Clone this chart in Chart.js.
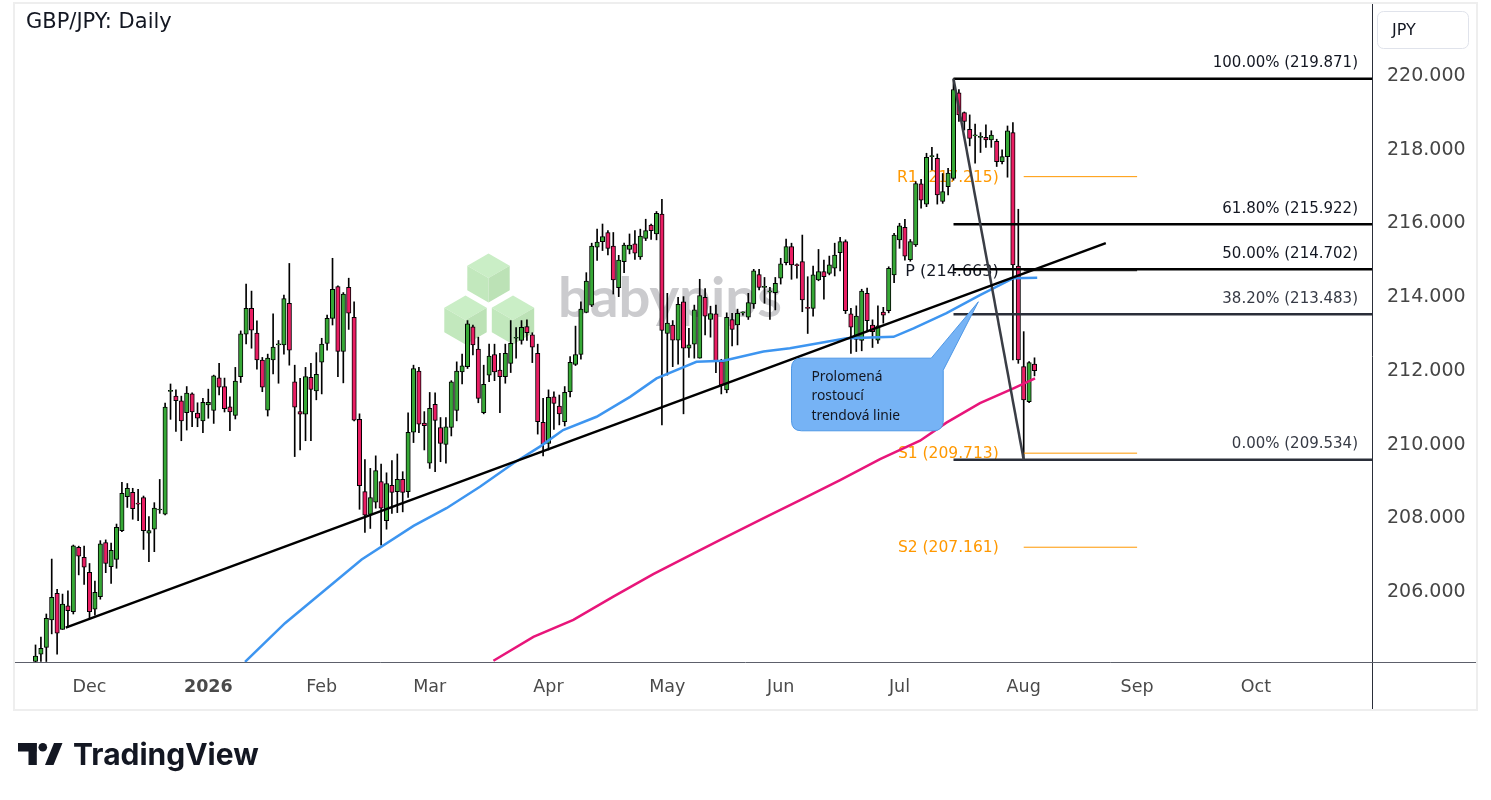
<!DOCTYPE html>
<html>
<head>
<meta charset="utf-8">
<title>GBP/JPY: Daily</title>
<script src="https://cdn.jsdelivr.net/npm/chart.js@4.4.1/dist/chart.umd.min.js"></script>
<style>
  html, body { margin: 0; padding: 0; background: #fff; }
  #wrap { width: 1491px; height: 800px; }
</style>
</head>
<body>
<div id="wrap"><canvas id="chart" width="1491" height="800"></canvas></div>
<script>
// daily candles (bar index 0 = 17 Nov 2025, trading days only)
const opens = [
  204.06, 204.26, 204.44, 205.19, 205.91, 204.93, 205.57, 205.41, 207.16, 206.89,
  206.48, 205.48, 205.82, 207.29, 206.63, 206.83, 207.61, 208.53, 208.65, 208.34,
  208.51, 207.54, 207.65, 208.17, 208.06, 211.39, 211.26, 211.13, 210.81, 211.32,
  210.80, 210.59, 211.02, 210.87, 211.76, 211.52, 210.97, 210.74, 211.79, 212.94,
  213.64, 212.97, 212.24, 210.88, 212.24, 212.65, 212.65, 213.78, 211.65, 210.84,
  210.77, 211.77, 211.40, 212.18, 212.69, 213.37, 214.23, 212.47, 214.21, 213.40,
  210.63, 208.67, 208.05, 208.38, 208.94, 207.88, 208.84, 208.67, 209.00, 208.67,
  210.28, 211.94, 210.53, 209.44, 211.04, 210.41, 209.95, 210.41, 210.87, 211.92,
  212.06, 213.14, 212.54, 210.81, 211.83, 212.39, 211.97, 211.79, 212.15, 212.83,
  212.77, 213.15, 212.92, 212.42, 210.55, 209.98, 211.24, 210.99, 210.57, 211.38,
  212.12, 212.39, 213.53, 213.73, 215.30, 215.45, 215.70, 215.33, 214.20, 214.91,
  215.24, 215.39, 215.04, 215.54, 215.90, 215.66, 216.20, 212.96, 213.19, 212.78,
  213.82, 212.56, 212.67, 212.29, 213.94, 213.34, 213.49, 212.20, 211.43, 213.34,
  213.19, 213.52, 213.40, 213.76, 214.56, 214.21, 214.09, 214.07, 214.46, 214.88,
  215.32, 214.83, 214.91, 213.65, 213.64, 214.41, 214.64, 214.59, 214.73, 215.15,
  215.45, 213.49, 212.80, 212.77, 214.05, 213.19, 212.78, 213.54, 213.58, 214.55,
  215.50, 215.84, 214.96, 215.36, 217.02, 216.47, 217.76, 217.71, 216.54, 216.94,
  217.17, 219.49, 218.95, 218.50, 218.32, 218.28, 218.28, 218.21, 218.17, 217.62,
  217.76, 218.41, 214.79, 212.06, 211.11, 212.13
];
const highs = [
  204.51, 204.72, 205.35, 206.84, 206.02, 205.89, 205.98, 207.22, 207.19, 207.19,
  206.72, 206.24, 207.34, 207.36, 207.27, 207.79, 208.92, 208.89, 208.76, 208.73,
  208.55, 207.99, 208.37, 209.00, 211.07, 211.59, 211.43, 211.26, 211.52, 211.35,
  211.08, 211.20, 211.45, 211.83, 212.15, 211.75, 211.24, 212.04, 213.03, 214.30,
  214.11, 213.30, 212.31, 212.40, 213.49, 212.77, 214.00, 214.86, 212.10, 211.74,
  212.04, 212.15, 212.44, 212.83, 213.46, 215.00, 214.25, 214.07, 214.46, 213.82,
  210.78, 209.54, 209.30, 209.64, 209.42, 209.18, 209.51, 209.69, 209.21, 210.81,
  212.10, 212.04, 210.84, 211.36, 211.35, 210.68, 210.68, 211.68, 212.19, 212.40,
  213.31, 213.19, 212.86, 212.10, 212.67, 212.67, 212.42, 212.67, 213.31, 213.12,
  213.31, 213.33, 212.98, 212.67, 211.20, 211.43, 211.38, 211.29, 211.52, 212.33,
  213.16, 213.82, 214.61, 215.41, 215.79, 215.93, 215.75, 215.70, 215.08, 215.41,
  215.66, 215.75, 215.79, 216.06, 215.93, 216.27, 216.60, 214.05, 213.31, 213.94,
  213.96, 213.10, 213.73, 214.43, 214.18, 213.70, 213.73, 212.26, 213.52, 213.51,
  213.62, 213.55, 214.05, 214.70, 214.70, 214.48, 214.21, 214.48, 215.00, 215.52,
  215.41, 214.85, 215.63, 214.50, 214.79, 215.24, 214.95, 215.06, 215.41, 215.57,
  215.50, 213.64, 213.71, 214.16, 214.19, 213.33, 213.71, 213.67, 214.77, 215.68,
  215.95, 216.06, 215.51, 217.08, 217.14, 217.85, 218.01, 217.83, 217.30, 217.44,
  219.871, 219.58, 218.97, 218.89, 218.64, 218.41, 218.62, 218.46, 218.23, 217.94,
  218.59, 218.68, 216.33, 213.01, 212.20, 212.30
];
const lows = [
  203.95, 204.06, 204.06, 204.81, 204.26, 204.93, 204.99, 205.35, 206.41, 206.15,
  205.23, 205.32, 205.75, 206.47, 206.18, 206.59, 207.58, 208.24, 207.92, 207.88,
  207.10, 206.77, 207.04, 208.08, 208.04, 210.63, 210.30, 210.05, 210.34, 210.43,
  210.43, 210.27, 210.66, 210.52, 211.29, 210.83, 210.32, 210.64, 211.63, 212.68,
  212.56, 211.99, 211.38, 210.72, 211.86, 211.61, 212.40, 212.10, 209.62, 209.80,
  210.05, 210.05, 211.16, 211.32, 212.51, 213.19, 211.79, 211.62, 213.07, 210.59,
  208.19, 207.56, 207.67, 208.22, 207.22, 207.65, 208.08, 208.10, 208.12, 208.51,
  210.00, 210.27, 209.80, 209.30, 209.21, 209.48, 209.44, 210.18, 210.59, 211.59,
  212.01, 212.38, 211.08, 210.78, 211.65, 211.68, 210.81, 211.61, 211.90, 212.29,
  212.67, 212.77, 212.17, 210.23, 209.64, 209.80, 210.36, 210.48, 210.45, 211.24,
  212.09, 212.26, 213.52, 213.69, 214.94, 215.21, 215.09, 214.03, 213.96, 214.61,
  215.12, 214.97, 214.97, 215.48, 215.51, 215.50, 210.48, 211.83, 212.06, 212.13,
  210.78, 212.31, 212.29, 212.29, 212.92, 212.86, 211.90, 211.32, 211.35, 212.62,
  212.65, 213.46, 213.34, 213.64, 214.14, 213.78, 213.34, 213.60, 214.30, 214.82,
  214.43, 214.46, 213.55, 212.96, 213.43, 214.39, 213.89, 214.55, 214.52, 214.66,
  213.50, 212.42, 212.47, 212.49, 213.01, 212.58, 212.69, 213.24, 213.52, 214.34,
  215.27, 214.95, 214.92, 215.32, 216.36, 216.40, 217.40, 216.47, 216.49, 216.72,
  217.12, 218.71, 218.48, 218.05, 217.58, 217.87, 218.01, 218.01, 217.49, 217.56,
  217.20, 212.24, 212.15, 209.534, 211.08, 211.81
];
const closes = [
  204.21, 204.42, 205.23, 205.80, 204.83, 205.62, 205.44, 207.20, 206.92, 206.62,
  205.41, 205.94, 207.25, 206.72, 207.08, 207.70, 208.62, 208.76, 208.21, 208.33,
  207.61, 207.61, 208.22, 208.18, 210.96, 211.40, 211.14, 210.59, 211.34, 210.83,
  210.66, 211.09, 211.09, 211.81, 211.50, 210.92, 210.83, 211.67, 212.95, 213.64,
  213.05, 212.24, 211.50, 212.29, 212.59, 212.66, 213.91, 212.51, 210.96, 210.77,
  211.79, 211.44, 211.85, 212.67, 213.37, 214.16, 212.47, 214.03, 213.51, 210.61,
  208.83, 208.03, 208.51, 209.24, 208.22, 208.89, 208.65, 209.00, 208.65, 210.28,
  212.01, 210.50, 210.46, 210.93, 210.60, 209.98, 210.43, 211.65, 211.94, 212.08,
  213.22, 212.65, 211.20, 211.58, 212.35, 211.92, 211.79, 212.42, 212.69, 212.84,
  213.13, 212.98, 212.59, 210.57, 209.96, 211.23, 211.06, 210.78, 211.36, 212.18,
  212.39, 213.62, 214.38, 215.33, 215.44, 215.59, 215.27, 214.41, 214.95, 215.36,
  215.36, 215.14, 215.60, 215.75, 215.75, 216.22, 213.04, 213.24, 212.78, 213.75,
  212.56, 212.65, 213.60, 213.99, 213.43, 213.50, 212.22, 211.56, 213.40, 213.07,
  213.51, 213.53, 213.80, 214.66, 214.21, 214.22, 214.10, 214.32, 214.85, 215.32,
  214.82, 214.80, 213.87, 213.64, 214.55, 214.64, 214.50, 214.82, 215.09, 215.45,
  213.58, 213.13, 213.43, 214.11, 213.31, 213.01, 213.17, 213.46, 214.73, 215.63,
  215.88, 215.06, 215.45, 217.03, 216.58, 217.74, 217.77, 216.72, 216.81, 217.31,
  219.58, 218.89, 218.71, 218.25, 218.33, 218.29, 218.21, 218.34, 217.62, 217.76,
  218.46, 214.82, 212.24, 211.16, 212.17, 211.95
];

// moving averages (bar index, price)
const blueMaIdx = [38.8, 46.2, 60.4, 70.0, 76.1, 82.3, 88.5, 93.4, 97.7, 103.9, 110.1, 115.0,
  122.4, 127.4, 134.8, 139.7, 150.2, 158.9, 162.6, 168.7, 174.9, 181.1, 185.5];
const blueMaVal = [204.05, 205.10, 206.83, 207.74, 208.22, 208.80, 209.44, 209.89, 210.34, 210.70, 211.24, 211.74,
  212.19, 212.22, 212.47, 212.56, 212.83, 212.87, 213.10, 213.51, 214.00, 214.46, 214.47];
const pinkMaIdx = [84.8, 92.2, 99.6, 107.0, 114.4, 121.8, 126.8, 135.4, 141.6, 149.0, 156.4, 163.8,
  168.7, 174.9, 181.1, 185.1];
const pinkMaVal = [204.08, 204.73, 205.19, 205.82, 206.43, 206.99, 207.36, 207.99, 208.44, 208.98, 209.55, 210.05,
  210.54, 211.07, 211.47, 211.74];

// drawings
const trendIdx = [5.6, 198.2];
const trendVal = [204.98, 215.41];
const fibLevels = ['100.00%', '61.80%', '50.00%', '38.20%', '0.00%'];
const fibValues = [219.871, 215.922, 214.702, 213.483, 209.534];
const fibSpan = [170, 183];          // swing high bar -> swing low bar
const pivotNames = ['R1', 'P', 'S1', 'S2'];
const pivotValues = [217.215, 214.663, 209.713, 207.161];
const pivotSpan = [183, 204];
const calloutLines = ['Prolomená', 'rostoucí', 'trendová linie'];

// axis
const monthIdx = [10, 32, 53, 73, 95, 117, 138, 160, 183, 204, 226];
const monthLabels = ['Dec', '2026', 'Feb', 'Mar', 'Apr', 'May', 'Jun', 'Jul', 'Aug', 'Sep', 'Oct'];
const priceTicks = [206, 208, 210, 212, 214, 216, 218, 220];

const X_MIN = -3.8, X_MAX = 247.5;
const Y_MIN = 204.047, Y_MAX = 221.899;
const GREEN = '#36a836';
const PINK = '#e91e63';
const ORANGE = '#ff9800';
const FONT = '"DejaVu Sans", Verdana, sans-serif';

const bars = opens.map((_, i) => i);
const bodyData = bars.map(i => ({ x: i, y: [opens[i], closes[i]] }));
const wickData = bars.map(i => ({ x: i, y: [lows[i], highs[i]] }));
const bodyColors = bars.map(i => closes[i] >= opens[i] ? GREEN : PINK);

const line = (data, color, width, order) => ({
    type: 'line', data, borderColor: color, borderWidth: width,
    pointRadius: 0, fill: false, tension: 0, order
});
const pairs = (xs, ys) => xs.map((x, i) => ({ x, y: ys[i] }));

const datasets = [
    line(pairs(trendIdx, trendVal), '#000', 2.5, 1),
    line(pairs(fibSpan, [fibValues[0], fibValues[4]]), '#3a3d45', 2.5, 2),
    line(pairs(blueMaIdx, blueMaVal), '#3d95f0', 2.5, 4),
    line(pairs(pinkMaIdx, pinkMaVal), '#e8157a', 2.5, 5),
];
fibValues.forEach((v, i) => {
    datasets.push(line(pairs([fibSpan[0], X_MAX], [v, v]), i < 3 ? '#000' : '#2a2e39', 2.5, 3));
});
pivotValues.forEach((v, i) => {
    datasets.push(line(pairs(pivotSpan, [v, v]), pivotNames[i] === 'P' ? '#000' : ORANGE, 1, 3));
});
datasets.push({
    type: 'bar', data: bodyData, backgroundColor: bodyColors, borderColor: '#000',
    borderWidth: 1, borderSkipped: false, barThickness: 4.4, minBarLength: 1,
    grouped: false, order: 20
});
datasets.push({
    type: 'bar', data: wickData, backgroundColor: '#000',
    barThickness: 1, grouped: false, order: 21
});

function cube(c, cx, cy, r) {
    const w = r * Math.cos(Math.PI / 6), h = r / 2;
    c.fillStyle = '#caeec6';
    c.beginPath(); c.moveTo(cx, cy - r); c.lineTo(cx + w, cy - h); c.lineTo(cx, cy); c.lineTo(cx - w, cy - h); c.closePath(); c.fill();
    c.fillStyle = '#c2e8bd';
    c.beginPath(); c.moveTo(cx - w, cy - h); c.lineTo(cx, cy); c.lineTo(cx, cy + r); c.lineTo(cx - w, cy + h); c.closePath(); c.fill();
    c.fillStyle = '#bce2b6';
    c.beginPath(); c.moveTo(cx, cy); c.lineTo(cx + w, cy - h); c.lineTo(cx + w, cy + h); c.lineTo(cx, cy + r); c.closePath(); c.fill();
}

const decor = {
    id: 'decor',
    beforeDraw(chart) {
        const c = chart.ctx;
        c.save();
        c.fillStyle = '#fff';
        c.fillRect(0, 0, chart.width, chart.height);
        c.restore();
    },
    beforeDatasetsDraw(chart) {
        const c = chart.ctx, xs = chart.scales.x, ys = chart.scales.y, a = chart.chartArea;
        c.save();
        // babypips watermark
        cube(c, 488.5, 278, 24.5);
        cube(c, 465.5, 320, 24.5);
        cube(c, 513, 320, 24.5);
        c.font = 'bold 59px Lato, "Open Sans", sans-serif';
        const w = c.measureText('babypips').width;
        c.font = `bold ${(59 * 224 / w).toFixed(1)}px Lato, "Open Sans", sans-serif`;
        c.fillStyle = '#cbcbce';
        c.textAlign = 'left';
        c.textBaseline = 'alphabetic';
        c.fillText('babypips', 558, 317);

        // fibonacci labels
        c.font = '15px ' + FONT;
        c.textAlign = 'right';
        c.textBaseline = 'bottom';
        fibValues.forEach((v, i) => {
            c.fillStyle = i < 3 ? '#131722' : '#363a45';
            c.fillText(`${fibLevels[i]} (${v.toFixed(3)})`, a.right - 14, ys.getPixelForValue(v) - 8);
        });

        // pivot labels (candles are drawn over them)
        c.textBaseline = 'middle';
        pivotNames.forEach((n, i) => {
            c.fillStyle = n === 'P' ? '#131722' : ORANGE;
            c.font = (n === 'P' ? '16px ' : '15.5px ') + FONT;
            c.fillText(`${n} (${pivotValues[i].toFixed(3)})`,
                xs.getPixelForValue(pivotSpan[0]) - 25, ys.getPixelForValue(pivotValues[i]) + 1);
        });
        c.restore();
    },
    afterDatasetsDraw(chart) {
        const c = chart.ctx, xs = chart.scales.x, ys = chart.scales.y;
        // callout "broken rising trend line"
        const x0 = xs.getPixelForValue(140.0), x1 = xs.getPixelForValue(168.1);
        const y0 = ys.getPixelForValue(212.29), y1 = ys.getPixelForValue(210.32);
        const tx = xs.getPixelForValue(174.6), ty = ys.getPixelForValue(213.82);
        const r = 10;
        c.save();
        c.beginPath();
        c.moveTo(x0 + r, y0);
        c.lineTo(x1 - 12, y0);
        c.lineTo(tx, ty);
        c.lineTo(x1, y0 + 12);
        c.lineTo(x1, y1 - r);
        c.quadraticCurveTo(x1, y1, x1 - r, y1);
        c.lineTo(x0 + r, y1);
        c.quadraticCurveTo(x0, y1, x0, y1 - r);
        c.lineTo(x0, y0 + r);
        c.quadraticCurveTo(x0, y0, x0 + r, y0);
        c.closePath();
        c.fillStyle = '#76b3f5';
        c.fill();
        c.lineWidth = 1;
        c.strokeStyle = '#4f98e6';
        c.stroke();
        c.fillStyle = '#131722';
        c.font = '13.8px "Noto Sans", sans-serif';
        c.textAlign = 'left';
        c.textBaseline = 'middle';
        calloutLines.forEach((t, i) => c.fillText(t, x0 + 20, y0 + 18.5 + i * 19.7));
        c.restore();
    },
    afterDraw(chart) {
        const c = chart.ctx, a = chart.chartArea;
        c.save();
        // outer frame
        c.strokeStyle = '#eeeeee';
        c.lineWidth = 2;
        c.strokeRect(14, 3, 1463, 707);
        // axis separators
        c.strokeStyle = '#2a2e39';
        c.lineWidth = 1;
        c.beginPath();
        c.moveTo(a.right + 0.5, 4); c.lineTo(a.right + 0.5, 709);
        c.stroke();
        c.strokeStyle = '#5d606b';
        c.beginPath();
        c.moveTo(a.left, a.bottom + 0.5); c.lineTo(1476, a.bottom + 0.5);
        c.stroke();
        // currency box
        c.strokeStyle = '#e0e3eb';
        c.beginPath();
        c.roundRect(1377.5, 11.5, 91, 37, 6);
        c.stroke();
        c.fillStyle = '#131722';
        c.font = '16px ' + FONT;
        c.textAlign = 'left';
        c.textBaseline = 'middle';
        c.fillText('JPY', 1392, 31);
        // title
        c.font = '21px ' + FONT;
        c.textBaseline = 'alphabetic';
        c.fillText('GBP/JPY: Daily', 26, 28);
        // TradingView logo
        c.fillRect(18, 743, 18.5, 8.5);
        c.fillRect(28.5, 743, 8.3, 22);
        c.beginPath(); c.arc(42.8, 747.3, 4.3, 0, Math.PI * 2); c.fill();
        c.beginPath();
        c.moveTo(54, 743); c.lineTo(62.5, 743); c.lineTo(53.5, 765); c.lineTo(45, 765);
        c.closePath(); c.fill();
        c.font = 'bold 30px Inter, "Noto Sans", sans-serif';
        c.fillText('TradingView', 73, 765);
        c.restore();
    }
};

new Chart(document.getElementById('chart'), {
    type: 'bar',
    data: { datasets },
    options: {
        responsive: false,
        animation: false,
        events: [],
        layout: { padding: { left: 15, top: 4, right: 15, bottom: 90 } },
        plugins: { legend: { display: false }, tooltip: { enabled: false } },
        scales: {
            x: {
                type: 'linear', min: X_MIN, max: X_MAX, offset: false,
                grid: { display: false, drawTicks: false },
                border: { display: false },
                afterBuildTicks: s => { s.ticks = monthIdx.map(v => ({ value: v })); },
                afterFit: s => { s.height = 48; s.paddingLeft = 0; s.paddingRight = 0; },
                ticks: {
                    autoSkip: false, maxRotation: 0, padding: 15, color: '#4a4a4a',
                    font: ctx => ({ family: FONT, size: 17.5, weight: ctx.tick && ctx.tick.value === 32 ? 'bold' : 'normal' }),
                    callback: v => monthLabels[monthIdx.indexOf(v)]
                }
            },
            y: {
                position: 'right', min: Y_MIN, max: Y_MAX,
                grid: { display: false, drawTicks: false },
                border: { display: false },
                afterBuildTicks: s => { s.ticks = priceTicks.map(v => ({ value: v })); },
                afterFit: s => { s.width = 104; s.paddingTop = 0; s.paddingBottom = 0; },
                ticks: {
                    padding: 15, color: '#454545', labelOffset: 2,
                    font: { family: FONT, size: 19 },
                    callback: v => v.toFixed(3)
                }
            }
        }
    },
    plugins: [decor]
});
</script>
</body>
</html>
